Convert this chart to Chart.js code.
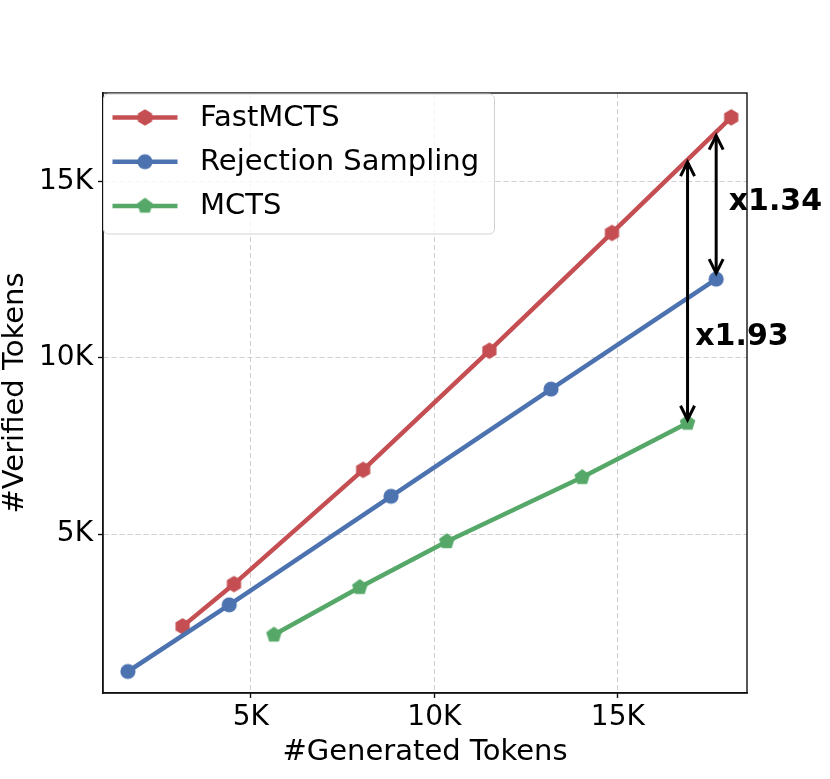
<!DOCTYPE html>
<html><head><meta charset="utf-8">
<script src="https://cdn.jsdelivr.net/npm/chart.js@4.4.1/dist/chart.umd.min.js"></script>
<style>html,body{margin:0;padding:0;background:#fff;}canvas{display:block;}</style>
</head><body>
<canvas id="c" width="830" height="779"></canvas>
<script>
// ---- data ----
const seriesNames = ['FastMCTS', 'Rejection Sampling', 'MCTS'];
const fastGenerated = [3140, 4540, 8060, 11500, 14840, 18090];
const fastVerified  = [2380, 3580, 6820, 10200, 13540, 16820];
const rejGenerated  = [1650, 4410, 8820, 13180, 17680];
const rejVerified   = [1100, 2990, 6070, 9110, 12230];
const mctsGenerated = [5630, 7970, 10340, 14030, 16900];
const mctsVerified  = [2140, 3490, 4790, 6610, 8150];
const xTickValues = [5000, 10000, 15000];
const yTickValues = [5000, 10000, 15000];
const xTitle = '#Generated Tokens';
const yTitle = '#Verified Tokens';
// annotations (arrows between series, in data units)
const arrowX      = [16900, 17680];
const arrowFrom   = [8240, 12400];
const arrowTo     = [15550, 16300];
const arrowLabels = ['x1.93', 'x1.34'];
const arrowLabelX = [17110, 18020];
const arrowLabelY = [10580, 14410];

// ---- styles ----
const FONT = '"DejaVu Sans", "Liberation Sans", sans-serif';
const colors = ['#C44E52', '#4C72B0', '#55A868'];

function markerCanvas(kind, color) {
  const R = kind === 'circle' ? 7.6 : 8.2;
  const size = Math.ceil(2 * R + 2);
  const c = document.createElement('canvas');
  c.width = size; c.height = size;
  const g = c.getContext('2d');
  g.fillStyle = color;
  g.beginPath();
  const cx = size / 2, cy = size / 2;
  if (kind === 'circle') {
    g.arc(cx, cy, R, 0, Math.PI * 2);
  } else {
    const n = kind === 'hexagon' ? 6 : 5;
    for (let i = 0; i < n; i++) {
      const a = -Math.PI / 2 + i * 2 * Math.PI / n;
      const px = cx + R * Math.cos(a), py = cy + R * Math.sin(a);
      if (i === 0) g.moveTo(px, py); else g.lineTo(px, py);
    }
    g.closePath();
  }
  g.fill();
  return c;
}
const markers = [markerCanvas('hexagon', colors[0]), markerCanvas('circle', colors[1]), markerCanvas('pentagon', colors[2])];

function pts(xs, ys) { return xs.map((x, i) => ({ x: x, y: ys[i] })); }

const seriesData = [pts(fastGenerated, fastVerified), pts(rejGenerated, rejVerified), pts(mctsGenerated, mctsVerified)];

const datasets = seriesNames.map((name, i) => ({
  label: name,
  data: seriesData[i],
  borderColor: colors[i],
  backgroundColor: colors[i],
  borderWidth: 4.5,
  pointStyle: markers[i],
  pointRadius: 8,
  pointHoverRadius: 8,
  tension: 0,
  fill: false,
  order: 3 - i
}));

const arrowPlugin = {
  id: 'arrows',
  afterDraw(chart) {
    const { ctx } = chart;
    const xs = chart.scales.x, ys = chart.scales.y;
    ctx.save();
    ctx.strokeStyle = '#000';
    ctx.fillStyle = '#000';
    ctx.lineWidth = 3;
    ctx.lineJoin = 'miter';
    arrowX.forEach((v, i) => {
      const x = xs.getPixelForValue(v);
      const yb = ys.getPixelForValue(arrowFrom[i]);
      const yt = ys.getPixelForValue(arrowTo[i]);
      ctx.beginPath();
      ctx.moveTo(x, yb);
      ctx.lineTo(x, yt);
      ctx.stroke();
      ctx.beginPath();
      ctx.moveTo(x - 7, yt + 14); ctx.lineTo(x, yt); ctx.lineTo(x + 7, yt + 14);
      ctx.stroke();
      ctx.beginPath();
      ctx.moveTo(x - 7, yb - 14); ctx.lineTo(x, yb); ctx.lineTo(x + 7, yb - 14);
      ctx.stroke();
    });
    ctx.font = 'bold 30px ' + FONT;
    ctx.textAlign = 'left';
    ctx.textBaseline = 'middle';
    arrowLabels.forEach((t, i) => {
      ctx.fillText(t, xs.getPixelForValue(arrowLabelX[i]), ys.getPixelForValue(arrowLabelY[i]));
    });
    ctx.restore();
  }
};

const framePlugin = {
  id: 'frame',
  afterDraw(chart) {
    const { ctx, chartArea: a } = chart;
    ctx.save();
    ctx.strokeStyle = '#111';
    ctx.lineWidth = 1.4;
    ctx.strokeRect(a.left, a.top, a.right - a.left, a.bottom - a.top);
    ctx.restore();
  }
};

const legendPlugin = {
  id: 'customLegend',
  afterDraw(chart) {
    const { ctx, chartArea: a } = chart;
    const x0 = a.left + 0.5, y0 = a.top + 1, w = 391, h = 140, r = 5;
    ctx.save();
    ctx.beginPath();
    ctx.moveTo(x0 + r, y0);
    ctx.arcTo(x0 + w, y0, x0 + w, y0 + h, r);
    ctx.arcTo(x0 + w, y0 + h, x0, y0 + h, r);
    ctx.arcTo(x0, y0 + h, x0, y0, r);
    ctx.arcTo(x0, y0, x0 + w, y0, r);
    ctx.closePath();
    ctx.fillStyle = 'rgba(255,255,255,0.8)';
    ctx.fill();
    ctx.strokeStyle = '#d2d2d2';
    ctx.lineWidth = 1;
    ctx.stroke();
    chart.data.datasets.forEach((ds, i) => {
      const cy = y0 + 23.5 + i * 44.2;
      ctx.strokeStyle = ds.borderColor;
      ctx.lineWidth = 4.5;
      ctx.beginPath();
      ctx.moveTo(x0 + 9, cy);
      ctx.lineTo(x0 + 74, cy);
      ctx.stroke();
      const m = ds.pointStyle;
      ctx.drawImage(m, x0 + 41.5 - m.width / 2, cy - m.height / 2);
      ctx.fillStyle = '#000';
      ctx.font = '29px ' + FONT;
      ctx.textAlign = 'left';
      ctx.textBaseline = 'middle';
      ctx.fillText(ds.label, x0 + 96.5, cy + 1);
    });
    ctx.restore();
  }
};

const gridCommon = {
  color: 'rgba(190,190,190,0.75)',
  lineWidth: 1,
  drawTicks: true,
  tickLength: 5,
  tickColor: '#111',
  tickWidth: 1.4,
  tickBorderDash: []
};

new Chart(document.getElementById('c'), {
  type: 'line',
  data: { datasets: datasets },
  options: {
    responsive: false,
    animation: false,
    devicePixelRatio: 1,
    layout: { padding: { left: 0, right: 83, top: 93, bottom: 0 } },
    plugins: { legend: { display: false }, tooltip: { enabled: false } },
    elements: { line: { borderCapStyle: 'round', borderJoinStyle: 'round' } },
    scales: {
      x: {
        type: 'linear',
        min: 971, max: 18520,
        afterBuildTicks: (axis) => { axis.ticks = xTickValues.map(v => ({ value: v })); },
        afterFit: (axis) => { axis.height = 86; },
        ticks: {
          callback: (v) => (v / 1000) + 'K',
          font: { family: FONT, size: 28 },
          color: '#000',
          padding: 3,
          maxRotation: 0,
          autoSkip: false
        },
        grid: gridCommon,
        border: { display: true, color: '#111', width: 1.4, dash: [5, 3] },
        title: {
          display: true, text: xTitle,
          font: { family: FONT, size: 29 }, color: '#000',
          padding: { top: 0, bottom: 9.6 }
        }
      },
      y: {
        type: 'linear',
        min: 490, max: 17510,
        afterBuildTicks: (axis) => { axis.ticks = yTickValues.map(v => ({ value: v })); },
        afterFit: (axis) => { axis.width = 103; },
        ticks: {
          callback: (v) => (v / 1000) + 'K',
          font: { family: FONT, size: 28 },
          color: '#000',
          padding: 5,
          autoSkip: false
        },
        grid: gridCommon,
        border: { display: true, color: '#111', width: 1.4, dash: [5, 3] },
        title: {
          display: true, text: yTitle,
          font: { family: FONT, size: 29 }, color: '#000',
          padding: { top: -2.4, bottom: 0 }
        }
      }
    }
  },
  plugins: [arrowPlugin, framePlugin, legendPlugin]
});
</script>
</body></html>
